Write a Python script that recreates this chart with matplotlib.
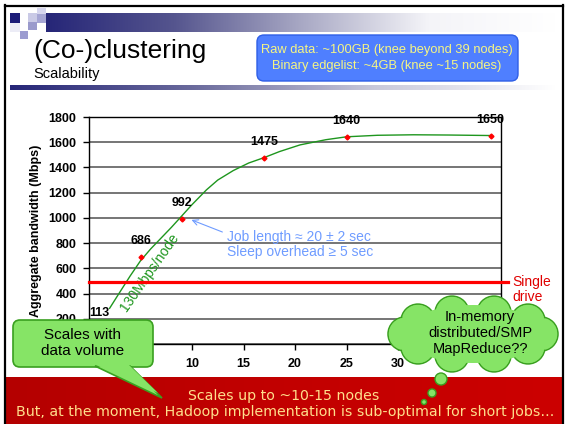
import numpy as np
import matplotlib
matplotlib.use('Agg')
import matplotlib.pyplot as plt
from matplotlib.colors import LinearSegmentedColormap
from matplotlib.patches import FancyBboxPatch, Rectangle, Polygon, Circle, Ellipse

plt.rcParams['font.family'] = ['Liberation Sans', 'DejaVu Sans']

# measured points
nodes = [1, 5, 9, 17, 25, 39]
bandwidth = [113, 686, 992, 1475, 1640, 1650]
point_labels = ['113', '686', '992', '1475', '1640', '1650']
# trend line
trend_nodes = [2, 3, 4, 5, 6, 7, 8, 9, 10, 11.4, 12.5, 14, 15.5, 17, 18.5, 20.5,
               23, 25, 28, 31.5, 35, 39]
trend_bw = [283, 412, 540, 660, 755, 840, 925, 1015, 1105, 1222, 1300, 1375, 1435,
            1478, 1526, 1579, 1620, 1643, 1655, 1659, 1657, 1653]
single_drive = 490
x_ticks = [0, 5, 10, 15, 20, 25, 30, 35, 40]
y_ticks = [0, 200, 400, 600, 800, 1000, 1200, 1400, 1600, 1800]

W, H = 565, 424
fig = plt.figure(figsize=(W / 100, H / 100), dpi=100)
fig.patch.set_facecolor('white')

# slide background
bg = fig.add_axes([0, 0, 1, 1], zorder=0)
bg.axis('off')

def hgrad(axx, x0, x1, y0, y1, colors):
    cm = LinearSegmentedColormap.from_list('g', colors)
    g = np.linspace(0, 1, 256).reshape(1, -1)
    axx.imshow(g, cmap=cm, extent=[x0, x1, y1, y0], aspect='auto', interpolation='bilinear')

hgrad(bg, 46, 556, 13, 32, ['#262678', '#55558e', '#a8a8c4', '#f4f4f8', '#ffffff'])
hgrad(bg, 10, 556, 85, 90, ['#262678', '#6a6a9c', '#c8c8da', '#ffffff'])
# small squares in the corner
for (x0, y0, w, h, c) in [(10, 13, 10, 10, '#1c1c78'), (10, 23, 10, 9, '#ececf6'),
                          (28, 13, 9, 9, '#cacae6'), (37, 8, 9, 6, '#d6d6ee'),
                          (37, 14, 9, 9, '#a6a6d4'), (28, 22, 9, 8, '#9a9acc'),
                          (20, 31, 8, 8, '#9c9cd0')]:
    bg.add_patch(Rectangle((x0, y0), w, h, color=c, lw=0))

# slide frame
bg.plot([5, 5], [5, 424], color='black', lw=1.6)
bg.plot([5, 563], [5.5, 5.5], color='black', lw=1.6)
bg.plot([562.5, 562.5], [5, 424], color='black', lw=1.6)

bg.text(33, 58, '(Co-)clustering', fontsize=19, va='baseline', ha='left')
bg.text(33, 78, 'Scalability', fontsize=10.5, va='baseline', ha='left')

bg.add_patch(FancyBboxPatch((257, 35), 261, 46, boxstyle='round,pad=0,rounding_size=7',
                            fc='#4f7fff', ec='#2f5fe6', lw=1))
bg.text(387, 50, 'Raw data: ~100GB (knee beyond 39 nodes)', color='#f5f584',
        fontsize=9.3, ha='center', va='center')
bg.text(387, 66, 'Binary edgelist: ~4GB (knee ~15 nodes)', color='#f5f584',
        fontsize=9.3, ha='center', va='center')

# red band at the bottom
hgrad(bg, 6, 562, 377, 424, ['#b40000', '#c20000', '#cc0000'])
bg.text(284, 396, 'Scales up to ~10-15 nodes', color='#ffdf8c', fontsize=10.2,
        family='DejaVu Sans', ha='center', va='center')
bg.text(285, 412, 'But, at the moment, Hadoop implementation is sub-optimal for short jobs\u2026',
        color='#ffdf8c', fontsize=10.2, family='DejaVu Sans', ha='center', va='center')
bg.set_xlim(0, W)
bg.set_ylim(H, 0)

# chart
ax = fig.add_axes([89 / W, 1 - 344 / H, 412 / W, 227 / H], zorder=1)
ax.set_xlim(0, 40)
ax.set_ylim(0, 1800)
ax.set_xticks(x_ticks)
ax.set_yticks(y_ticks)
ax.tick_params(axis='both', labelsize=9, length=4, width=1, color='black')
ax.tick_params(axis='x', pad=6)
ax.tick_params(axis='y', pad=5)
for lab in ax.get_xticklabels() + ax.get_yticklabels():
    lab.set_fontweight('bold')
ax.yaxis.grid(True, color='#505050', lw=1.1)
ax.set_axisbelow(True)
for s in ax.spines.values():
    s.set_color('black')
    s.set_linewidth(1)
ax.set_ylabel('Aggregate bandwidth (Mbps)', fontsize=9, fontweight='bold')
ax.yaxis.set_label_coords(-0.114, 0.5)

ax.plot(trend_nodes, trend_bw, color='#1e961e', lw=1)
ax.plot(nodes, bandwidth, 'D', color='#ff0000', ms=2.5, zorder=5)
for xv, yv, t in zip(nodes, bandwidth, point_labels):
    if t == '113':
        ax.text(xv - 1, yv + 135, t, fontsize=9, fontweight='bold', ha='left', va='center')
    else:
        ax.text(xv, yv + 130, t, fontsize=9, fontweight='bold', ha='center', va='center')

ax.plot([0, 40.7], [single_drive, single_drive], color='#ff0000', lw=2.3, clip_on=False, zorder=4)
ax.text(41.1, 545, 'Single\ndrive', color='#e00000', fontsize=10, ha='left', va='top',
        linespacing=1.05)
ax.text(5.85, 566, '130Mbps/node', color='#1e961e', fontsize=10, rotation=55,
        ha='center', va='center')
ax.annotate('', xy=(9.7, 992), xytext=(13.2, 880),
            arrowprops=dict(arrowstyle='->', color='#6f9cff', lw=0.8))
ax.text(13.4, 790, 'Job length \u2248 20 \u00b1 2 sec\nSleep overhead \u2265 5 sec',
        color='#6f9cff', fontsize=10, ha='left', va='center', linespacing=1.1)

# callouts on top
ov = fig.add_axes([0, 0, 1, 1], zorder=2)
ov.patch.set_alpha(0)
ov.axis('off')

gc = '#86e466'
ge = '#3aa020'
box = FancyBboxPatch((13, 320), 140, 47, boxstyle='round,pad=0,rounding_size=7',
                     fc=gc, ec=ge, lw=1.2)
tri = Polygon([(95, 366), (130, 366), (162, 398)], closed=True, fc=gc, ec=ge, lw=1.2)
ov.add_patch(box)
ov.add_patch(tri)
ov.add_patch(Polygon([(96, 365), (129, 365), (158, 393)], closed=True, fc=gc, ec='none'))
ov.text(83, 343, 'Scales with\ndata volume', fontsize=11, ha='center', va='center',
        linespacing=1.1)

# cloud: bumps around an ellipse
ccx, ccy, ca, cb, cr = 473, 334, 68, 22, 17
angles = np.deg2rad([0, 36, 72, 108, 144, 180, 216, 252, 288, 324])
bumps = [(ccx + ca * np.cos(t), ccy - cb * np.sin(t)) for t in angles]
for (bx, by) in bumps:
    ov.add_patch(Circle((bx, by), cr, fc=gc, ec=ge, lw=1.1))
for (bx, by) in bumps:
    ov.add_patch(Circle((bx, by), cr - 0.9, fc=gc, ec='none'))
ov.add_patch(Ellipse((ccx, ccy), 2 * ca + 6, 2 * cb + 14, fc=gc, ec='none'))
for (cx, cy, r) in [(441, 379, 6), (432, 393, 4), (424, 402, 2.5)]:
    ov.add_patch(Circle((cx, cy), r, fc=gc, ec=ge, lw=1))
ov.text(480, 333, 'In-memory\ndistributed/SMP\nMapReduce??', fontsize=10.5, ha='center',
        va='center', linespacing=1.15)
ov.set_xlim(0, W)
ov.set_ylim(H, 0)

fig.savefig('out.png', dpi=100)
